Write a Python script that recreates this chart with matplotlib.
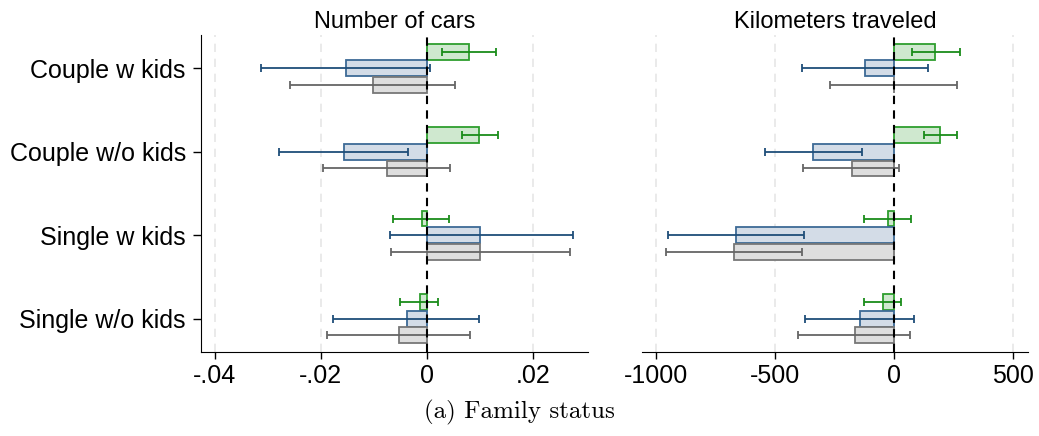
import numpy as np
import matplotlib.pyplot as plt

categories = ['Single w/o kids', 'Single w kids', 'Couple w/o kids', 'Couple w kids']

# number of cars: (point, lo, hi) for each series, order as categories
cars_green = [-0.0013, -0.0009, 0.0099, 0.0079]
cars_green_lo = [-0.0050, -0.0063, 0.0067, 0.0029]
cars_green_hi = [0.0021, 0.0041, 0.0135, 0.0131]
cars_blue = [-0.0038, 0.0101, -0.0156, -0.0153]
cars_blue_lo = [-0.0177, -0.0070, -0.0279, -0.0313]
cars_blue_hi = [0.0099, 0.0275, -0.0035, 0.0006]
cars_gray = [-0.0053, 0.0101, -0.0075, -0.0102]
cars_gray_lo = [-0.0189, -0.0067, -0.0196, -0.0258]
cars_gray_hi = [0.0082, 0.0270, 0.0043, 0.0053]

# kilometers traveled
km_green = [-46, -24, 193, 172]
km_green_lo = [-126, -126, 125, 74]
km_green_hi = [29, 73, 265, 276]
km_blue = [-142, -662, -340, -121]
km_blue_lo = [-376, -949, -544, -388]
km_blue_hi = [85, -380, -136, 144]
km_gray = [-165, -672, -177, -2]
km_gray_lo = [-403, -958, -384, -268]
km_gray_hi = [67, -386, 22, 264]

styles = [('#2e9e2e', '#cfe8cf', '#1a8c1a', 0.2),
          ('#3d6a96', '#d3dce7', '#1f4e79', 0.0),
          ('#777777', '#dedede', '#666666', -0.2)]

plt.rcParams['font.family'] = ['Liberation Sans', 'DejaVu Sans']

fig = plt.figure(figsize=(10.39, 4.36), dpi=100)
ax1 = fig.add_axes([0.1935, 0.1927, 0.3725, 0.727])
ax2 = fig.add_axes([0.6179, 0.1927, 0.3715, 0.727])

y = np.arange(len(categories))


def draw(ax, series, xlim, ticks, labels, grid_ticks):
    for (vals, lo, hi), (ec, fc, errc, off) in zip(series, styles):
        vals = np.array(vals)
        ax.barh(y + off, vals, height=0.19, color=fc, edgecolor=ec, linewidth=1.3, zorder=3)
        ax.errorbar(vals, y + off, xerr=[vals - np.array(lo), np.array(hi) - vals],
                    fmt='none', ecolor=errc, elinewidth=1.3, capsize=3, capthick=1.3, zorder=4)
    for g in grid_ticks:
        ax.axvline(g, color='#e6e6e6', linestyle=(0, (5, 4)), linewidth=1.2, zorder=1)
    ax.axvline(0, color='black', linestyle=(0, (4, 3)), linewidth=1.5, zorder=5)
    ax.set_xlim(xlim)
    ax.set_ylim(-0.4, 3.4)
    ax.set_xticks(ticks)
    ax.set_xticklabels(labels, fontsize=18)
    ax.spines['top'].set_visible(False)
    ax.spines['right'].set_visible(False)
    ax.tick_params(axis='x', length=5, width=1, pad=4)


draw(ax1, [(cars_green, cars_green_lo, cars_green_hi),
           (cars_blue, cars_blue_lo, cars_blue_hi),
           (cars_gray, cars_gray_lo, cars_gray_hi)],
     (-0.0426, 0.0304), [-0.04, -0.02, 0, 0.02], ['-.04', '-.02', '0', '.02'],
     [-0.04, -0.02, 0.02])
ax1.set_yticks(y)
ax1.set_yticklabels(categories, fontsize=18)
ax1.tick_params(axis='y', length=6, width=1, pad=5)

draw(ax2, [(km_green, km_green_lo, km_green_hi),
           (km_blue, km_blue_lo, km_blue_hi),
           (km_gray, km_gray_lo, km_gray_hi)],
     (-1059, 563), [-1000, -500, 0, 500], ['-1000', '-500', '0', '500'],
     [-1000, -500, 500])
ax2.set_yticks([])
ax2.spines['left'].set_visible(False)

ax1.set_title('Number of cars', fontsize=17, pad=5)
ax2.set_title('Kilometers traveled', fontsize=17, pad=5)

fig.text(0.5, 0.04, '(a) Family status', fontsize=18, family='cmr10', ha='center', va='baseline')

fig.savefig('out.png', dpi=100)
